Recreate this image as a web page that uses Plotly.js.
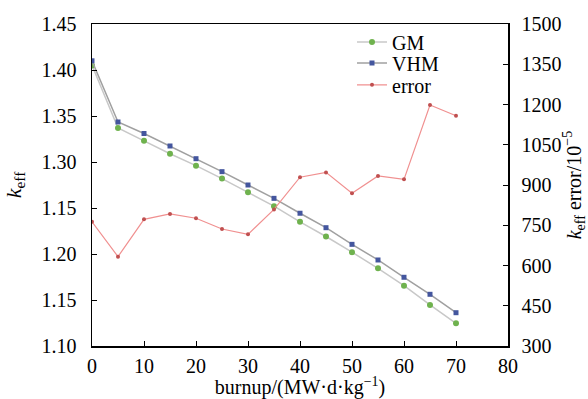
<!DOCTYPE html>
<html>
<head>
<meta charset="utf-8">
<script src="https://cdn.plot.ly/plotly-3.0.1.min.js"></script>
<style>html,body{margin:0;padding:0;background:#fff;}#chart{width:588px;height:399px;}</style>
</head>
<body>
<div id="chart"></div>
<script>
const burnup = [0, 5, 10, 15, 20, 25, 30, 35, 40, 45, 50, 55, 60, 65, 70];
const gmKeff = [1.405, 1.337, 1.323, 1.309, 1.296, 1.282, 1.267, 1.252, 1.235, 1.219, 1.202, 1.1845, 1.1656, 1.1446, 1.1247];
const vhmKeff = [1.410, 1.3435, 1.331, 1.3174, 1.3036, 1.2895, 1.275, 1.2605, 1.2443, 1.2286, 1.2105, 1.1935, 1.1747, 1.1562, 1.1362];
const errorVals = [763, 633, 772, 792, 776, 736, 716, 809, 929, 947, 869, 934, 921, 1198, 1158];
const leftTickVals = [1.10, 1.15, 1.20, 1.25, 1.30, 1.35, 1.40, 1.45];
const leftTickText = ["1.10", "1.15", "1.20", "1.15", "1.30", "1.35", "1.40", "1.45"];
const rightTickVals = [300, 450, 600, 750, 900, 1050, 1200, 1350, 1500];
const xTickVals = [0, 10, 20, 30, 40, 50, 60, 70, 80];

const FAM = "Liberation Serif";
const font = {family: FAM, size: 20, color: "#000"};
const legFont = {family: FAM, size: 20, color: "#000"};

const traces = [
  {x: burnup, y: gmKeff, name: "GM", mode: "lines+markers", legend: "legend",
   line: {color: "#c8c8c8", width: 1.5},
   marker: {color: "#6fb24e", size: 6, symbol: "circle"}},
  {x: burnup, y: vhmKeff, name: "VHM", mode: "lines+markers", legend: "legend2",
   line: {color: "#a0a0a0", width: 1.5},
   marker: {color: "#44569e", size: 5, symbol: "square"}},
  {x: burnup, y: errorVals, name: "error", mode: "lines+markers", yaxis: "y2", legend: "legend3",
   line: {color: "#f09090", width: 1.2},
   marker: {color: "#c05050", size: 4, symbol: "circle"}}
];

function leg(yc) {
  return {x: 0.625, y: yc, xanchor: "left", yanchor: "middle", bgcolor: "rgba(0,0,0,0)",
          font: legFont, itemwidth: 30, borderwidth: 0};
}

const layout = {
  width: 588, height: 399,
  margin: {l: 92, r: 80, t: 24, b: 53},
  paper_bgcolor: "#fff", plot_bgcolor: "#fff",
  font: font,
  showlegend: true,
  legend: leg(0.944),
  legend2: leg(0.879),
  legend3: leg(0.811),
  xaxis: {range: [0, 80], tickvals: xTickVals, ticks: "inside", ticklen: 5, tickcolor: "#000",
          showline: true, linecolor: "#000", linewidth: 1.5, mirror: true, showgrid: false, zeroline: false,
          tickfont: font, ticklabelstandoff: 1,
          title: {text: "burnup/(MW·d·kg<sup>−1</sup>)", font: font, standoff: 9}},
  yaxis: {range: [1.10, 1.45], tickvals: leftTickVals, ticktext: leftTickText, ticks: "inside", ticklen: 5,
          tickcolor: "#000", showline: true, linecolor: "#000", linewidth: 1.5, showgrid: false, zeroline: false,
          tickfont: font, ticklabelstandoff: 10,
          title: {text: "<i>k</i><sub>eff</sub>", font: {family: FAM, size: 22, color: "#000"}, standoff: 14}},
  yaxis2: {range: [300, 1500], tickvals: rightTickVals, overlaying: "y", side: "right", ticks: "inside", ticklen: 5,
           tickcolor: "#000", showline: true, linecolor: "#000", linewidth: 1.5, showgrid: false, zeroline: false,
           tickfont: font, ticklabelstandoff: 8,
           title: {text: "<i>k</i><sub>eff</sub> error/10<sup>−5</sup>", font: font, standoff: 10}}
};

Plotly.newPlot("chart", traces, layout, {displayModeBar: false, staticPlot: true});
</script>
</body>
</html>
